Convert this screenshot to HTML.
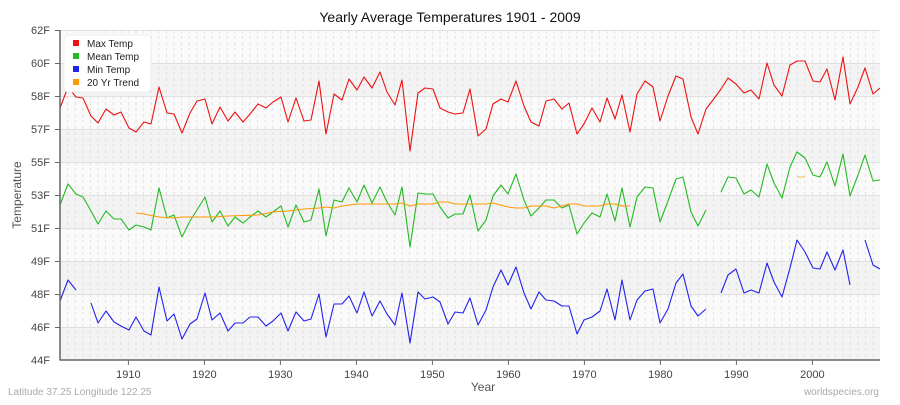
<!DOCTYPE html>
<html><head><meta charset="utf-8"><style>
body{margin:0;background:#fff;}
svg text{font-family:"Liberation Sans",sans-serif;}
</style></head><body>
<svg width="900" height="400" viewBox="0 0 900 400" xmlns="http://www.w3.org/2000/svg">
<rect x="0" y="0" width="900" height="400" fill="#fff"/>
<rect x="60" y="30" width="820" height="330" fill="#fafafa"/>
<rect x="60" y="63" width="820" height="33" fill="#f3f3f3"/>
<rect x="60" y="129" width="820" height="33" fill="#f3f3f3"/>
<rect x="60" y="195" width="820" height="33" fill="#f3f3f3"/>
<rect x="60" y="261" width="820" height="33" fill="#f3f3f3"/>
<rect x="60" y="327" width="820" height="33" fill="#f3f3f3"/>
<path stroke="#e0e0e0" stroke-width="1" stroke-dasharray="3,3" fill="none" d="M67.6 30V360M75.2 30V360M82.8 30V360M90.4 30V360M98 30V360M105.6 30V360M113.2 30V360M120.8 30V360M128.4 30V360M136 30V360M143.6 30V360M151.2 30V360M158.8 30V360M166.4 30V360M174 30V360M181.6 30V360M189.2 30V360M196.8 30V360M204.4 30V360M212 30V360M219.6 30V360M227.2 30V360M234.8 30V360M242.4 30V360M250 30V360M257.6 30V360M265.2 30V360M272.8 30V360M280.4 30V360M288 30V360M295.6 30V360M303.2 30V360M310.8 30V360M318.4 30V360M326 30V360M333.6 30V360M341.2 30V360M348.8 30V360M356.4 30V360M364 30V360M371.6 30V360M379.2 30V360M386.8 30V360M394.4 30V360M402 30V360M409.6 30V360M417.2 30V360M424.8 30V360M432.4 30V360M440 30V360M447.6 30V360M455.2 30V360M462.8 30V360M470.4 30V360M478 30V360M485.6 30V360M493.2 30V360M500.8 30V360M508.4 30V360M516 30V360M523.6 30V360M531.2 30V360M538.8 30V360M546.4 30V360M554 30V360M561.6 30V360M569.2 30V360M576.8 30V360M584.4 30V360M592 30V360M599.6 30V360M607.2 30V360M614.8 30V360M622.4 30V360M630 30V360M637.6 30V360M645.2 30V360M652.8 30V360M660.4 30V360M668 30V360M675.6 30V360M683.2 30V360M690.8 30V360M698.4 30V360M706 30V360M713.6 30V360M721.2 30V360M728.8 30V360M736.4 30V360M744 30V360M751.6 30V360M759.2 30V360M766.8 30V360M774.4 30V360M782 30V360M789.6 30V360M797.2 30V360M804.8 30V360M812.4 30V360M820 30V360M827.6 30V360M835.2 30V360M842.8 30V360M850.4 30V360M858 30V360M865.6 30V360M873.2 30V360"/>
<g stroke="#e0e0e0" stroke-width="1">
<line x1="60" x2="880" y1="30.5" y2="30.5"/><line x1="60" x2="880" y1="63.5" y2="63.5"/><line x1="60" x2="880" y1="96.5" y2="96.5"/><line x1="60" x2="880" y1="129.5" y2="129.5"/><line x1="60" x2="880" y1="162.5" y2="162.5"/><line x1="60" x2="880" y1="195.5" y2="195.5"/><line x1="60" x2="880" y1="228.5" y2="228.5"/><line x1="60" x2="880" y1="261.5" y2="261.5"/><line x1="60" x2="880" y1="294.5" y2="294.5"/><line x1="60" x2="880" y1="327.5" y2="327.5"/>
</g>
<g fill="none" stroke-width="1.1" stroke-linejoin="round">
<polyline stroke="#ee1111" points="60,108 68,87 76,97 83,98 91,116 98,123 106,109 114,115 121,112 129,128 136,132 144,122 151,124 159,87 167,113 174,114 182,133 190,113 197,101 205,99 212,124 220,107 228,121 235,112 243,122 250,114 258,104 266,108 273,102 281,97 288,122 296,98 304,121 311,120 319,81 326,134 334,94 342,100 349,79 357,90 364,77 372,88 380,72 387,92 395,105 402,80 410,151 418,93 425,88 433,89 440,108 448,112 455,114 463,113 470,89 478,136 486,129 493,104 501,99 508,102 516,81 524,106 531,122 539,126 546,101 554,99 562,109 569,103 577,134 584,124 592,108 600,122 607,98 615,119 622,95 630,132 637,94 645,81 653,87 660,121 668,96 676,76 683,79 691,117 698,134 706,109 713,100 721,89 728,78 736,84 744,93 751,90 759,99 767,63 774,85 782,96 790,65 797,61 805,61 813,81 820,82 827,69 835,100 843,57 850,104 858,87 865,68 873,94 880,88"/>
<polyline stroke="#22bb22" points="60,205 68,184 76,194 83,197 91,211 98,224 106,211 114,219 121,219 129,230 136,225 144,227 151,230 159,188 167,218 174,215 182,237 190,221 197,210 205,197 212,222 220,211 228,226 235,217 243,223 250,217 258,211 266,217 273,212 281,206 288,227 296,205 304,222 311,220 319,189 326,236 334,200 342,202 349,188 357,202 364,185 372,203 380,187 387,202 395,215 402,187 410,247 418,193 425,194 433,194 440,207 448,218 455,214 463,214 470,195 478,231 486,220 493,196 501,185 508,194 516,174 524,200 531,216 539,208 546,200 554,200 562,208 569,205 577,234 584,223 592,213 600,217 607,194 615,221 622,188 630,227 637,197 645,187 653,188 660,222 668,201 676,179 683,177 691,212 698,226 706,210"/>
<polyline stroke="#22bb22" points="721,192 728,177 736,178 744,194 751,190 759,197 767,164 774,183 782,198 790,167 797,152 805,158 813,175 820,177 827,162 835,186 843,154 850,196 858,175 865,155 873,181 880,180"/>
<polyline stroke="#ff9900" points="136,213 144,214 159,217 174,218 182,217 212,217 228,216 258,215 273,212 288,211 304,209 319,208 326,207 334,208 342,206 357,204 395,204 402,203 410,206 418,204 433,204 440,202 448,202 455,204 486,204 493,203 508,207 516,208 524,208 531,206 546,206 554,208 562,206 569,204 577,204 584,206 600,206 607,204 615,204 622,206 630,206"/>
<polyline stroke="#ffbb55" points="797,177 805,177"/>
<polyline stroke="#2222ee" points="60,301 68,280 76,290"/>
<polyline stroke="#2222ee" points="91,303 98,323 106,311 114,322 121,326 129,330 136,317 144,331 151,335 159,287 167,321 174,314 182,339 190,324 197,319 205,293 212,320 220,313 228,331 235,323 243,323 250,317 258,317 266,326 273,321 281,313 288,331 296,312 304,321 311,319 319,294 326,337 334,304 342,304 349,296 357,313 364,292 372,316 380,301 387,314 395,325 402,293 410,343 418,292 425,299 433,297 440,302 448,324 455,312 463,313 470,298 478,325 486,310 493,287 501,270 508,285 516,267 524,293 531,309 539,292 546,300 554,301 562,306 569,306 577,334 584,320 592,317 600,311 607,289 615,320 622,280 630,320 637,300 645,291 653,289 660,323 668,309 676,283 683,274 691,306 698,316 706,309"/>
<polyline stroke="#2222ee" points="721,293 728,275 736,269 744,293 751,290 759,293 767,263 774,282 782,297 790,268 797,240 805,252 813,268 820,269 827,252 835,270 843,250 850,285"/>
<polyline stroke="#2222ee" points="865,240 873,265 880,269"/>
</g>
<g stroke="#666" stroke-width="1.5">
<line x1="60" y1="30" x2="60" y2="360.5"/>
<line x1="59.5" y1="360" x2="880" y2="360"/>
</g>
<g stroke="#666" stroke-width="1">
<line x1="128.4" x2="128.4" y1="360" y2="365"/><line x1="204.4" x2="204.4" y1="360" y2="365"/><line x1="280.4" x2="280.4" y1="360" y2="365"/><line x1="356.4" x2="356.4" y1="360" y2="365"/><line x1="432.4" x2="432.4" y1="360" y2="365"/><line x1="508.4" x2="508.4" y1="360" y2="365"/><line x1="584.4" x2="584.4" y1="360" y2="365"/><line x1="660.4" x2="660.4" y1="360" y2="365"/><line x1="736.4" x2="736.4" y1="360" y2="365"/><line x1="812.4" x2="812.4" y1="360" y2="365"/>
<line x1="55" x2="60" y1="30.5" y2="30.5"/><line x1="55" x2="60" y1="63.5" y2="63.5"/><line x1="55" x2="60" y1="96.5" y2="96.5"/><line x1="55" x2="60" y1="129.5" y2="129.5"/><line x1="55" x2="60" y1="162.5" y2="162.5"/><line x1="55" x2="60" y1="195.5" y2="195.5"/><line x1="55" x2="60" y1="228.5" y2="228.5"/><line x1="55" x2="60" y1="261.5" y2="261.5"/><line x1="55" x2="60" y1="294.5" y2="294.5"/><line x1="55" x2="60" y1="327.5" y2="327.5"/>
</g>
<g font-size="11" fill="#444" text-anchor="end">
<text x="50" y="34">62F</text><text x="50" y="67">60F</text><text x="50" y="100">58F</text><text x="50" y="133">57F</text><text x="50" y="166">55F</text><text x="50" y="199">53F</text><text x="50" y="232">51F</text><text x="50" y="265">49F</text><text x="50" y="298">48F</text><text x="50" y="331">46F</text><text x="50" y="364">44F</text>
</g>
<g font-size="11" fill="#444" text-anchor="middle">
<text x="128.4" y="378">1910</text><text x="204.4" y="378">1920</text><text x="280.4" y="378">1930</text><text x="356.4" y="378">1940</text><text x="432.4" y="378">1950</text><text x="508.4" y="378">1960</text><text x="584.4" y="378">1970</text><text x="660.4" y="378">1980</text><text x="736.4" y="378">1990</text><text x="812.4" y="378">2000</text>
</g>
<text x="450" y="22" font-size="14" fill="#111" text-anchor="middle">Yearly Average Temperatures 1901 - 2009</text>
<text x="483" y="391" font-size="12" fill="#555" text-anchor="middle">Year</text>
<text transform="translate(21,195) rotate(-90)" font-size="12" fill="#555" text-anchor="middle">Temperature</text>
<text x="8" y="395" font-size="10" fill="#aaa">Latitude 37.25 Longitude 122.25</text>
<text x="879" y="395" font-size="10" fill="#aaa" text-anchor="end">worldspecies.org</text>
<rect x="64" y="35" width="87" height="57" rx="4" fill="#fff" stroke="#eee"/>
<rect x="73" y="40" width="6" height="6" fill="#ee1111"/>
<rect x="73" y="53" width="6" height="6" fill="#22bb22"/>
<rect x="73" y="66" width="6" height="6" fill="#2222ee"/>
<rect x="73" y="79" width="6" height="6" fill="#ff9900"/>
<g font-size="10" fill="#222">
<text x="87" y="47">Max Temp</text><text x="87" y="60">Mean Temp</text><text x="87" y="73">Min Temp</text><text x="87" y="86">20 Yr Trend</text>
</g>
</svg>
</body></html>
